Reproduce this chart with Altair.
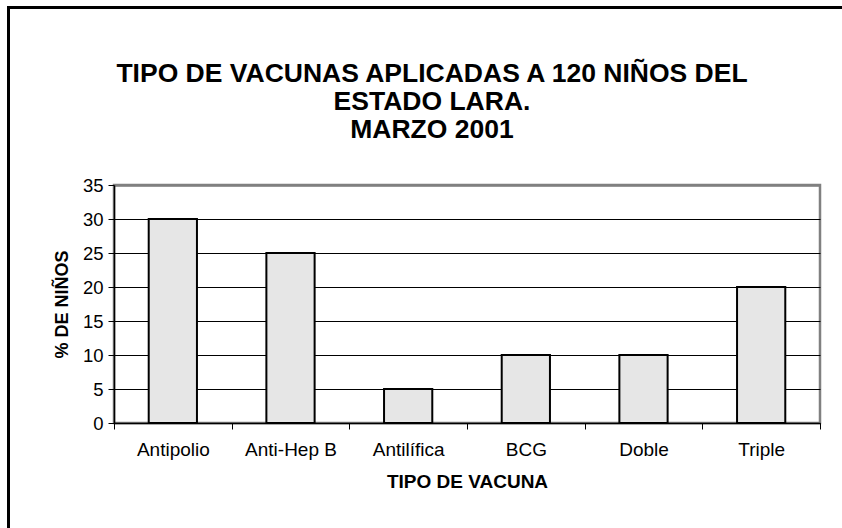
import altair as alt
import pandas as pd

# Vaccine types and share of children (%) who received each one
vacunas = ["Antipolio", "Anti-Hep B", "Antilífica", "BCG", "Doble", "Triple"]
porcentajes = [30, 25, 5, 10, 10, 20]
y_ticks = [0, 5, 10, 15, 20, 25, 30, 35]
titulo = ["TIPO DE VACUNAS APLICADAS A 120 NIÑOS DEL", "ESTADO LARA.", "MARZO 2001"]

df = pd.DataFrame({"vacuna": vacunas, "pct": porcentajes})

FONT = "Liberation Sans"

bars = alt.Chart(df).mark_bar(
    width={"band": 0.41},
    fill="#e6e6e6",
    stroke="black",
    strokeWidth=2,
).encode(
    x=alt.X(
        "vacuna:N",
        sort=vacunas,
        scale=alt.Scale(paddingInner=0, paddingOuter=0),
        axis=alt.Axis(
            title="TIPO DE VACUNA",
            labelAngle=0,
            labelFontSize=19,
            labelPadding=11,
            labelColor="black",
            titleFontSize=19,
            titleFontWeight="bold",
            titlePadding=13,
            titleColor="black",
            tickBand="extent",
            tickColor="black",
            tickSize=6,
            domainColor="black",
            domainWidth=1.5,
            grid=False,
        ),
    ),
    y=alt.Y(
        "pct:Q",
        scale=alt.Scale(domain=[0, 35]),
        axis=alt.Axis(
            title="% DE NIÑOS",
            values=y_ticks,
            labelFontSize=18.5,
            labelPadding=5,
            labelColor="black",
            titleFontSize=18,
            titleFontWeight="bold",
            titlePadding=11,
            titleColor="black",
            tickColor="black",
            tickSize=6,
            domainColor="black",
            domainWidth=1.5,
            grid=True,
            gridColor={"condition": {"test": "datum.value === 35", "value": "#808080"}, "value": "black"},
            gridWidth={"condition": {"test": "datum.value === 35", "value": 2.5}, "value": 1},
        ),
    ),
)

# Chart title, three centred lines above the plot
title = alt.Chart(pd.DataFrame({"k": [0]})).mark_text(
    font=FONT,
    fontSize=26.5,
    fontWeight="bold",
    color="black",
    lineHeight=28,
    align="center",
    baseline="middle",
).encode(
    x=alt.value(318),
    y=alt.value(-111),
    text=alt.value(titulo),
)

# Frame drawn around the whole chart
frame = alt.Chart(pd.DataFrame({"k": [0]})).mark_rect(
    fill=None, stroke="black", strokeWidth=3, clip=False
).encode(
    x=alt.value(-105.5),
    x2=alt.value(760),
    y=alt.value(-177.5),
    y2=alt.value(400),
)

chart = alt.layer(frame, bars, title).properties(
    width=706,
    height=238,
    autosize=alt.AutoSizeParams(type="none"),
    padding={"left": 114, "top": 185, "right": 22, "bottom": 105},
).configure(
    font=FONT,
    background="white",
).configure_view(
    stroke="#808080",
    strokeWidth=2.5,
).configure_axis(
    labelFont=FONT,
    titleFont=FONT,
)

chart.save("out.html", embed_options={"renderer": "svg", "actions": False})
